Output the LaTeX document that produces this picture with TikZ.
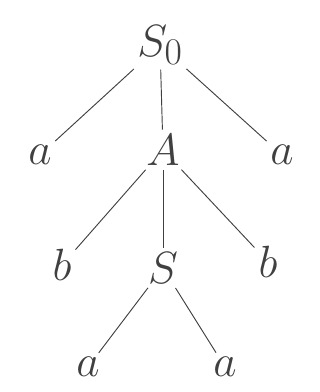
\documentclass[tikz,border=0pt]{standalone}
\usepackage{graphicx}
\usetikzlibrary{calc}
\definecolor{PenClr}{rgb}{0.25,0.25,0.25}
\newcommand{\bigsym}[1]{\scalebox{1.55}{$#1$}}

\begin{document}
\begin{tikzpicture}[x=0.03cm,y=0.03cm,
  sym/.style={font=\Huge,text=PenClr,inner sep=2pt},
  edge/.style={draw=PenClr,line width=0.8pt,shorten <=2pt,shorten >=2pt}]
\useasboundingbox (0,0) rectangle (320,392);

% nodes, pixel positions with y counted from the bottom
\node[sym] (S0) at (160,347) {\bigsym{S_0}};
\node[sym] (a1) at (40,237) {\bigsym{a}};
\node[sym] (A)  at (163,242) {\bigsym{A}};
\node[sym] (a2) at (282,237) {\bigsym{a}};
\node[sym] (b1) at (62,127) {\bigsym{b}};
\node[sym] (S)  at (163,124) {\bigsym{S}};
\node[sym] (b2) at (268,130) {\bigsym{b}};
\node[sym] (a3) at (88,25) {\bigsym{a}};
\node[sym] (a4) at (225,25) {\bigsym{a}};

% branches
\draw[edge] (S0) -- (a1);
\draw[edge] (S0) -- (A);
\draw[edge] (S0) -- (a2);
\draw[edge] (A) -- (b1);
\draw[edge] (A) -- (S);
\draw[edge] (A) -- (b2);
\draw[edge] (S) -- (a3);
\draw[edge] (S) -- (a4);

\end{tikzpicture}
\end{document}
